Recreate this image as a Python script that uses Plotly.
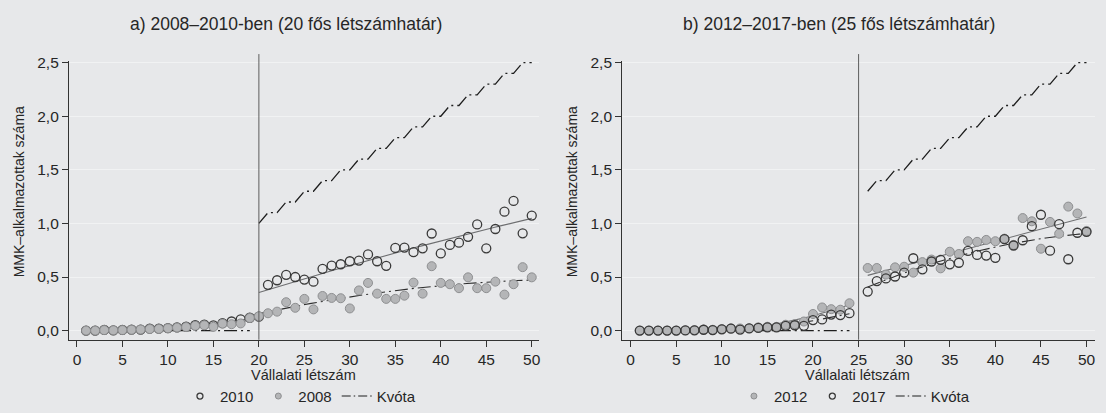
import numpy as np
import plotly.graph_objects as go

# ---------------- data ----------------
x_all = list(range(1, 51))

# Panel a) 2008-2010, threshold 20
a_2010 = [0.0, 0.0, 0.006, 0.003, 0.006, 0.01, 0.01, 0.018, 0.018, 0.024,
          0.03, 0.037, 0.05, 0.055, 0.049, 0.07, 0.085, 0.104, 0.12, 0.13,
          0.427, 0.47, 0.52, 0.50, 0.476, 0.457, 0.576, 0.607, 0.619, 0.647,
          0.653, 0.711, 0.647, 0.604, 0.771, 0.775, 0.732, 0.768, 0.906, 0.72,
          0.799, 0.82, 0.875, 0.991, 0.768, 0.948, 1.11, 1.21, 0.908, 1.073]
a_2008 = [0.0, 0.0, 0.005, 0.003, 0.005, 0.008, 0.01, 0.015, 0.016, 0.022,
          0.028, 0.033, 0.045, 0.05, 0.035, 0.065, 0.06, 0.067, 0.118, 0.134,
          0.162, 0.177, 0.265, 0.213, 0.296, 0.198, 0.323, 0.305, 0.302, 0.207,
          0.375, 0.445, 0.345, 0.296, 0.296, 0.326, 0.448, 0.345, 0.601, 0.445,
          0.433, 0.396, 0.497, 0.396, 0.396, 0.457, 0.336, 0.433, 0.592, 0.497]
a_threshold = 20
a_quota_x = list(range(20, 51))
a_quota = [1.0, 1.1, 1.1, 1.2, 1.2, 1.3, 1.3, 1.4, 1.4, 1.5, 1.5, 1.6, 1.6,
           1.7, 1.7, 1.8, 1.8, 1.9, 1.9, 2.0, 2.0, 2.1, 2.1, 2.2, 2.2, 2.3,
           2.3, 2.4, 2.4, 2.5, 2.5]
a_zero_x = list(range(1, 20))

# Panel b) 2012-2017, threshold 25 (no observation visible at 25)
b_x = list(range(1, 25)) + list(range(26, 51))
b_2012 = [0.0, 0.0, 0.0, 0.0, 0.0, 0.003, 0.005, 0.01, 0.008, 0.015,
          0.022, 0.02, 0.022, 0.03, 0.036, 0.035, 0.055, 0.06, 0.085, 0.155,
          0.216, 0.2, 0.195, 0.255,
          0.584, 0.584, 0.523, 0.59, 0.596, 0.541, 0.639, 0.663, 0.581, 0.736,
          0.715, 0.834, 0.828, 0.846, 0.834, 0.858, 0.80, 1.05, 1.02, 0.764,
          1.014, 0.904, 1.157, 1.093, 0.93]
b_2017 = [0.0, 0.0, 0.0, 0.0, 0.0, 0.002, 0.003, 0.008, 0.005, 0.012,
          0.018, 0.01, 0.02, 0.025, 0.03, 0.03, 0.045, 0.05, 0.045, 0.098,
          0.104, 0.15, 0.145, 0.163,
          0.364, 0.462, 0.487, 0.505, 0.541, 0.675, 0.572, 0.645, 0.66, 0.618,
          0.633, 0.743, 0.706, 0.70, 0.679, 0.853, 0.794, 0.843, 0.974, 1.081,
          0.746, 0.993, 0.666, 0.913, 0.922]
b_threshold = 25
b_quota_x = list(range(26, 51))
b_quota = [1.3, 1.4, 1.4, 1.5, 1.5, 1.6, 1.6, 1.7, 1.7, 1.8, 1.8, 1.9, 1.9,
           2.0, 2.0, 2.1, 2.1, 2.2, 2.2, 2.3, 2.3, 2.4, 2.4, 2.5, 2.5]
b_zero_x = list(range(1, 25))

titles = ["a) 2008–2010-ben (20 fős létszámhatár)",
          "b) 2012–2017-ben (25 fős létszámhatár)"]
x_title = "Vállalati létszám"
y_title = "MMK–alkalmazottak száma"
y_ticks = [0, 0.5, 1.0, 1.5, 2.0, 2.5]
x_ticks = list(range(0, 51, 5))

# ---------------- style ----------------
FONT = "Liberation Sans, Arial, sans-serif"
BG = "#e7e8ea"
GRID = "#f1f2f3"
INK = "#262626"
DASHDOT = "13px,4px,2px,4px"
HOLLOW = dict(symbol="circle-open", size=9, color="#3a3a3a", line=dict(width=1.3))
FILLED = dict(symbol="circle", size=9, color="#b4b5b7", line=dict(width=1, color="#8e8f91"))

W, H = 1106, 413
Y_BOT_PX, Y_TOP_PX = 339.3, 55.0
LINE_TOP_PX = 48.0
yd = [(H - Y_BOT_PX) / H, (H - Y_TOP_PX) / H]
xdA = [69 / W, 540 / W]
xdB = [623.3 / W, 1096.7 / W]

fig = go.Figure()


def fit_curve(xs, ys, lo, hi, deg=2):
    xs = np.array(xs, float)
    ys = np.array(ys, float)
    m = (xs >= lo) & (xs <= hi)
    c = np.polyfit(xs[m], ys[m], deg)
    gx = np.linspace(xs[m].min(), xs[m].max(), 60)
    return gx, np.polyval(c, gx)


def add_fit(xs, ys, thr, right_start, xa, ya, style):
    px, py = [], []
    gx, gy = fit_curve(xs, ys, 1, thr - 1)
    px += list(gx) + [None]
    py += list(gy) + [None]
    gx, gy = fit_curve(xs, ys, right_start, 50)
    px += list(gx)
    py += list(gy)
    fig.add_trace(go.Scatter(x=px, y=py, mode="lines", line=style,
                             xaxis=xa, yaxis=ya, showlegend=False,
                             hoverinfo="skip"))


SOLID = dict(color="#6e6f71", width=1.1)
DASHED = dict(color="#2e2e2e", width=1.1, dash=DASHDOT)
QUOTA = dict(color="#1e1e1e", width=1.3, dash=DASHDOT)

# ----- panel a -----
add_fit(x_all, a_2010, a_threshold, a_threshold, "x", "y", SOLID)
add_fit(x_all, a_2008, a_threshold, a_threshold, "x", "y", DASHED)
fig.add_trace(go.Scatter(x=a_zero_x + [None] + a_quota_x,
                         y=[0] * len(a_zero_x) + [None] + a_quota,
                         mode="lines", line=QUOTA, xaxis="x", yaxis="y",
                         showlegend=False, hoverinfo="skip"))
fig.add_trace(go.Scatter(x=x_all, y=a_2010, mode="markers", marker=HOLLOW,
                         xaxis="x", yaxis="y", showlegend=False))
fig.add_trace(go.Scatter(x=x_all, y=a_2008, mode="markers", marker=FILLED,
                         xaxis="x", yaxis="y", showlegend=False))

# ----- panel b -----
add_fit(b_x, b_2012, b_threshold, b_threshold + 1, "x2", "y2", SOLID)
add_fit(b_x, b_2017, b_threshold, b_threshold + 1, "x2", "y2", DASHED)
fig.add_trace(go.Scatter(x=b_zero_x + [None] + b_quota_x,
                         y=[0] * len(b_zero_x) + [None] + b_quota,
                         mode="lines", line=QUOTA, xaxis="x2", yaxis="y2",
                         showlegend=False, hoverinfo="skip"))
fig.add_trace(go.Scatter(x=b_x, y=b_2012, mode="markers", marker=FILLED,
                         xaxis="x2", yaxis="y2", showlegend=False))
fig.add_trace(go.Scatter(x=b_x, y=b_2017, mode="markers", marker=HOLLOW,
                         xaxis="x2", yaxis="y2", showlegend=False))

# ----- legend entries (small symbols) -----
LEG_HOLLOW = dict(HOLLOW, size=6)
LEG_FILLED = dict(FILLED, size=6)
LEG_LINE = dict(QUOTA, width=1.1, dash="9px,3px,1.5px,3px")
legend_items = [
    ("legend", "2010", "markers", dict(marker=LEG_HOLLOW)),
    ("legend", "2008", "markers", dict(marker=LEG_FILLED)),
    ("legend", "Kvóta", "lines", dict(line=LEG_LINE)),
    ("legend2", "2012", "markers", dict(marker=LEG_FILLED)),
    ("legend2", "2017", "markers", dict(marker=LEG_HOLLOW)),
    ("legend2", "Kvóta", "lines", dict(line=LEG_LINE)),
]
for leg, name, mode, kw in legend_items:
    fig.add_trace(go.Scatter(x=[None], y=[None], mode=mode, name=name,
                             legend=leg, showlegend=True,
                             xaxis="x" if leg == "legend" else "x2",
                             yaxis="y" if leg == "legend" else "y2", **kw))

axis_common = dict(showline=True, linecolor="#333333", linewidth=1,
                   ticks="outside", ticklen=6, tickwidth=1, tickcolor="#333333",
                   tickfont=dict(family=FONT, size=15.5, color=INK),
                   zeroline=False)

fig.update_layout(
    width=W, height=H,
    margin=dict(l=0, r=0, t=0, b=0),
    paper_bgcolor=BG, plot_bgcolor=BG,
    separators=", ",
    font=dict(family=FONT, size=15, color=INK),
    xaxis=dict(domain=xdA, range=[-0.89, 50.8], tickvals=x_ticks,
               showgrid=False, anchor="y", **axis_common),
    yaxis=dict(domain=yd, range=[-0.085, 2.516], tickvals=y_ticks,
               tickformat=".1f", showgrid=True, gridcolor=GRID, gridwidth=1,
               anchor="x", **axis_common),
    xaxis2=dict(domain=xdB, range=[-0.93, 50.9], tickvals=x_ticks,
                showgrid=False, anchor="y2", **axis_common),
    yaxis2=dict(domain=yd, range=[-0.085, 2.516], tickvals=y_ticks,
                tickformat=".1f", showgrid=True, gridcolor=GRID, gridwidth=1,
                anchor="x2", **axis_common),
    legend=dict(orientation="h", x=301 / W, xanchor="center",
                y=(H - 397) / H, yanchor="middle", bgcolor="rgba(0,0,0,0)",
                font=dict(family=FONT, size=15, color=INK), itemwidth=30,
                tracegroupgap=0),
    legend2=dict(orientation="h", x=856 / W, xanchor="center",
                 y=(H - 397) / H, yanchor="middle", bgcolor="rgba(0,0,0,0)",
                 font=dict(family=FONT, size=15, color=INK), itemwidth=30,
                 tracegroupgap=0),
    showlegend=True,
)

# threshold vertical lines
for xr, thr in (("x", a_threshold), ("x2", b_threshold)):
    fig.add_shape(type="line", xref=xr, yref="paper", x0=thr, x1=thr,
                  y0=yd[0], y1=(H - LINE_TOP_PX) / H,
                  line=dict(color="#5e5e5e", width=1))

annotations = []
for cx_px, t in ((287, titles[0]), (841, titles[1])):
    annotations.append(dict(text=t, x=cx_px / W, y=(H - 17) / H, xref="paper",
                            yref="paper", showarrow=False, xanchor="center",
                            yanchor="middle",
                            font=dict(family=FONT, size=17.5, color=INK)))
for cx_px in (304, 859):
    annotations.append(dict(text=x_title, x=cx_px / W, y=(H - 375) / H, xref="paper",
                            yref="paper", showarrow=False, xanchor="center",
                            yanchor="middle", font=dict(family=FONT, size=14.5, color=INK)))
for px in (19, 573):
    annotations.append(dict(text=y_title, x=px / W, y=(H - 188) / H, xref="paper",
                            yref="paper", showarrow=False, textangle=-90,
                            xanchor="center", yanchor="middle",
                            font=dict(family=FONT, size=14, color=INK)))
fig.update_layout(annotations=annotations)

fig.write_html("out.html",
               config={"displayModeBar": False},
               post_script="document.body.style.margin='0px';"
                           "document.body.style.overflow='hidden';")
